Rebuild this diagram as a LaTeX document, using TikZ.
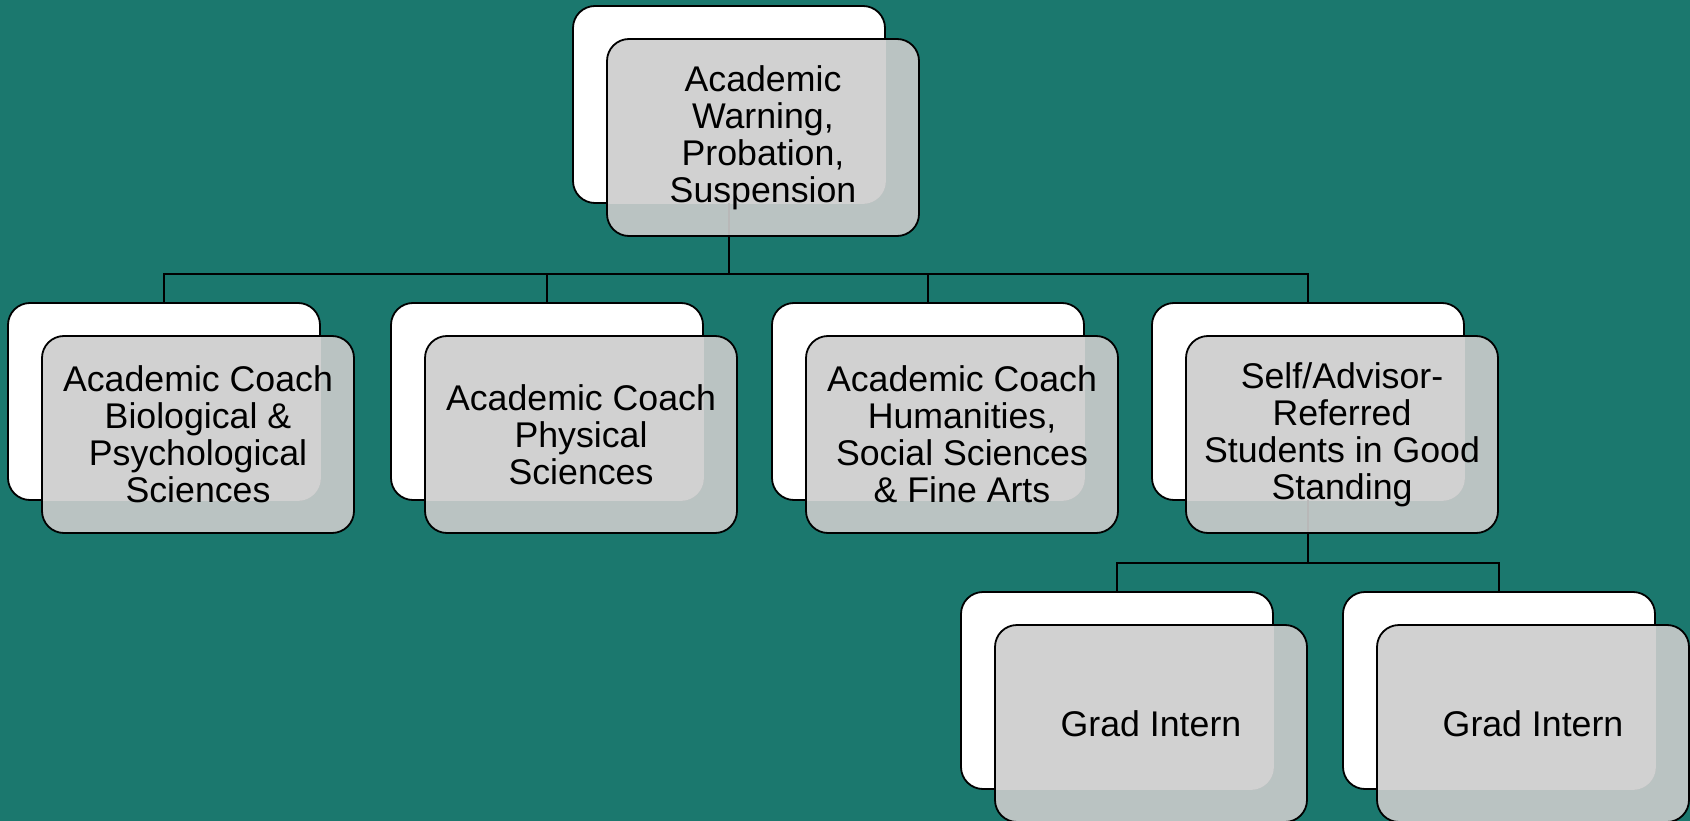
\documentclass[tikz,border=0pt]{standalone}
\usepackage{fontspec}
\setmainfont{Liberation Sans}
\definecolor{bgteal}{RGB}{27,120,110}
\definecolor{boxgray}{RGB}{204,204,204}
\pgfdeclarelayer{boxback}
\pgfdeclarelayer{boxmask}
\pgfdeclarelayer{wires}
\pgfsetlayers{boxback,boxmask,wires,main}

\tikzset{
  outline/.style={draw=black, line width=1.8pt, rounded corners=22pt, outer sep=0pt},
  wbox/.style={outline, fill=white, minimum width=312pt, minimum height=197pt,
    anchor=north west, inner sep=0pt},
  gbox/.style={outline, fill=boxgray, fill opacity=0.9, text opacity=1,
    minimum width=312pt, minimum height=197pt, anchor=north west, inner sep=0pt,
    align=center, font=\fontsize{35.7}{37}\selectfont},
  wire/.style={draw=black, line width=1.8pt},
}

% A white card with a translucent grey card laid over it, offset down-right.
\newcommand\stackedbox[4]{%
  \begin{pgfonlayer}{boxback}
    \node[wbox] (#1-w) at (#2,#3) {};
  \end{pgfonlayer}
  \node[gbox] (#1) at (#2+34,#3+33) {#4};
  \begin{pgfonlayer}{boxmask}
    \begin{scope}
      \clip[rounded corners=22pt] (#1.north west) rectangle (#1.south east);
      \draw[white, fill=white, line width=1.8pt, rounded corners=22pt]
        (#1-w.north west) rectangle (#1-w.south east);
    \end{scope}
  \end{pgfonlayer}
}

\begin{document}
\begin{tikzpicture}[x=1pt,y=-1pt]
\useasboundingbox (0,0) rectangle (1690,821);
\begin{pgfonlayer}{boxback}
  \fill[bgteal] (0,0) rectangle (1690,821);
\end{pgfonlayer}

\stackedbox{top}{573}{6}{Academic\\Warning,\\Probation,\\Suspension}

\stackedbox{c1}{8}{303}{Academic Coach\\Biological \&\\Psychological\\Sciences}
\stackedbox{c2}{391}{303}{Academic Coach\\Physical\\Sciences}
\stackedbox{c3}{772}{303}{Academic Coach\\Humanities,\\Social Sciences\\\& Fine Arts}
\stackedbox{c4}{1152}{303}{Self/Advisor-\\Referred\\Students in Good\\Standing}

\stackedbox{g1}{961}{592}{Grad Intern}
\stackedbox{g2}{1343}{592}{Grad Intern}

\coordinate (bus1) at (0,274);
\coordinate (bus2) at (0,563);

\begin{pgfonlayer}{wires}
  \draw[wire] (top-w.south) -- (top-w.south |- bus1);
  \draw[wire] (c1-w.north) -- (c1-w.north |- bus1) -- (c4-w.north |- bus1) -- (c4-w.north);
  \draw[wire] (c2-w.north) -- (c2-w.north |- bus1);
  \draw[wire] (c3-w.north) -- (c3-w.north |- bus1);
  \draw[wire] (c4-w.south) -- (c4-w.south |- bus2);
  \draw[wire] (g1-w.north) -- (g1-w.north |- bus2) -- (g2-w.north |- bus2) -- (g2-w.north);
\end{pgfonlayer}
\end{tikzpicture}
\end{document}
